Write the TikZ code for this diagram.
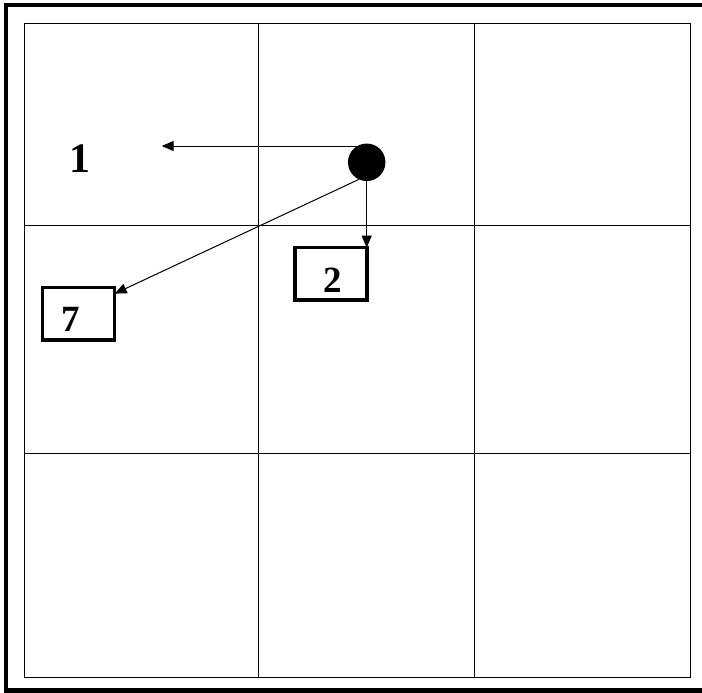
\documentclass[tikz,border=0pt]{standalone}
\usepackage{fontspec}
\setmainfont{Liberation Serif}
\usetikzlibrary{arrows.meta,calc}
\begin{document}
\begin{tikzpicture}[x=1pt,y=-1pt,
  gridline/.style={line width=1pt},
  frameline/.style={line width=4.2pt},
  boxnode/.style={draw,line width=3.5pt,minimum width=72pt,minimum height=52.5pt,inner sep=0pt,outer sep=0pt},
  numlabel/.style={inner sep=0pt,font=\bfseries\fontsize{37}{40}\selectfont},
  bigfont/.style={inner sep=0pt,font=\bfseries\fontsize{42}{44}\selectfont},
  arr/.style={line width=1pt,-{Triangle[length=12pt,width=10pt]}}]
\useasboundingbox (0,0) rectangle (702,693);
\fill[white] (0,0) rectangle (702,693);
% outer frame (open on the right)
\draw[frameline] (702,5) -- (6.2,5) -- (6.2,690.5) -- (702,690.5);
% grid
\draw[gridline] (24.3,23.3) rectangle (690.7,677);
\draw[gridline] (258.3,23.3) -- (258.3,677);
\draw[gridline] (474,23.3) -- (474,677);
\draw[gridline] (24.3,225.3) -- (690.7,225.3);
\draw[gridline] (24.3,453) -- (690.7,453);
% nodes
\node[circle,fill=black,minimum size=37.5pt,inner sep=0pt] (dot) at (366.7,162.3) {};
\node[boxnode] (box2) at (330.8,273.9) {};
\node[boxnode] (box7) at (78.7,313.9) {};
\node[numlabel] (t2) at (333,280.5) {2};
\node[numlabel] (t7) at (70.5,319) {7};
\node[bigfont] (t1) at (80,159) {1};
% connectors
\coordinate (tip1) at (161.7,146);
\draw[arr] (tip1 -| dot.center) -- (tip1);
\draw[arr] (dot.center) -- (dot.center |- box2.north);
\coordinate (tip7) at ($(box7.north east)+(0,6)$);
\draw[arr] (dot.-115) -- (tip7);
\end{tikzpicture}
\end{document}
